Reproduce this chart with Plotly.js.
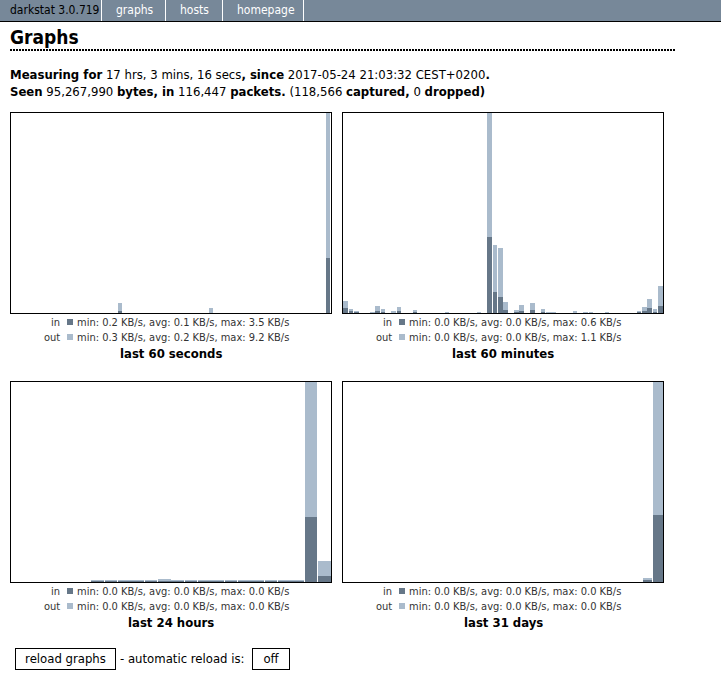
<!DOCTYPE html>
<html><head><meta charset="utf-8">
<script src="https://cdn.plot.ly/plotly-3.0.1.min.js"></script>
<style>
body{margin:0;background:#fff;font-family:"DejaVu Sans Condensed","DejaVu Sans",sans-serif;color:#000;}
#plot{position:absolute;left:0;top:0;width:721px;height:698px;}
#nav{position:absolute;left:0;top:0;width:721px;height:21px;background:#778899;border-bottom:1px solid #000;z-index:2;}
.nv{position:absolute;top:0;height:21px;line-height:21px;font-size:12px;color:#fff;}
.sep{position:absolute;top:0;width:1px;height:21px;background:#fff;}
#h{position:absolute;left:10px;top:25px;font-size:19px;font-weight:bold;line-height:24px;z-index:2;}
#dots{position:absolute;left:10px;top:49px;width:666px;height:2px;z-index:2;}
.ln{position:absolute;left:10px;font-size:13px;line-height:17px;white-space:nowrap;z-index:2;}
.btn{position:absolute;top:648px;height:20px;border:1px solid #000;background:#fff;font-size:13px;line-height:20px;text-align:center;z-index:2;}
#auto{position:absolute;left:120px;top:648px;line-height:22px;font-size:13px;z-index:2;}
</style></head><body>
<div id="plot"></div>
<div id="nav">
  <div class="nv" style="left:10px;color:#000;">darkstat 3.0.719</div>
  <div class="sep" style="left:101px"></div>
  <div class="nv" style="left:116px">graphs</div>
  <div class="sep" style="left:165px"></div>
  <div class="nv" style="left:180px">hosts</div>
  <div class="sep" style="left:222px"></div>
  <div class="nv" style="left:237px">homepage</div>
  <div class="sep" style="left:303px"></div>
</div>
<div id="h">Graphs</div>
<svg id="dots" width="666" height="2"><line x1="0" y1="1" x2="666" y2="1" stroke="#000" stroke-width="2" stroke-dasharray="2,1"/></svg>
<div class="ln" style="top:66px"><b>Measuring for</b> 17 hrs, 3 mins, 16 secs<b>, since</b> 2017-05-24 21:03:32 CEST+0200<b>.</b></div>
<div class="ln" style="top:83px"><b>Seen</b> 95,267,990 <b>bytes, in</b> 116,447 <b>packets.</b> (118,566 <b>captured,</b> 0 <b>dropped)</b></div>
<div class="btn" style="left:15px;width:99px;">reload graphs</div>
<div id="auto">- automatic reload is:</div>
<div class="btn" style="left:252px;width:36px;">off</div>
<script>
// ---- data (KB/s) ----
const secIn  = [0,0,0,0,0,0,0,0,0,0, 0,0,0,0,0,0,0,0,0,0, 0.13,0,0,0,0,0,0,0,0,0, 0,0,0,0,0,0,0,0,0,0, 0,0,0,0,0,0,0,0,0,0, 0,0,0,0,0,0,0,0,0,3.5];
const secOut = [0,0,0,0,0,0,0,0,0,0, 0,0,0,0,0,0,0,0,0,0, 0.52,0,0,0,0,0,0,0,0,0, 0,0,0,0,0,0,0,0.34,0,0, 0,0,0,0,0,0,0,0,0,0, 0,0,0,0,0,0,0,0,0,9.2];
const minIn  = [0.045,0.020,0.011,0,0,0,0.020,0.011,0,0, 0.020,0,0,0.008,0,0,0,0,0,0, 0,0,0,0,0,0,0,0.648,0.178,0.136, 0.025,0,0.008,0.020,0,0.025,0,0.011,0,0, 0,0,0,0,0,0,0,0,0,0, 0,0,0,0,0,0.008,0.017,0.042,0.008,0.059];
const minOut = [0.057,0.014,0.008,0,0,0.008,0.040,0.023,0,0.017, 0.031,0,0,0.017,0,0,0,0,0,0.008, 0,0,0,0,0,0.008,0,1.052,0.399,0.419, 0.068,0,0.017,0.048,0,0.059,0,0.023,0.008,0.008, 0,0,0,0.017,0,0.008,0.008,0,0,0.008, 0,0,0,0,0,0.008,0.034,0.076,0.025,0.170];
const hrIn   = [0,0,0,0,0,0, 0.0002,0.0002,0.0002,0.0002,0.0002,0.0002,0.0002,0.0002,0.0002,0.0002,0.0002,0.0002,0.0002,0.0002,0.0002,0.0002, 0.013,0.00126];
const hrOut  = [0,0,0,0,0,0, 0.0002,0.0002,0.0002,0.0002,0.0002,0.00046,0.0002,0.0002,0.0002,0.0002,0.0002,0.0002,0.0002,0.0002,0.0002,0.0002, 0.027,0.0029];
const dayIn  = [0,0,0,0,0,0,0,0,0,0, 0,0,0,0,0,0,0,0,0,0, 0,0,0,0,0,0,0,0,0,0.00046,0.0134];
const dayOut = [0,0,0,0,0,0,0,0,0,0, 0,0,0,0,0,0,0,0,0,0, 0,0,0,0,0,0,0,0,0,0.00034,0.0266];

const graphTitles = ["last 60 seconds","last 60 minutes","last 24 hours","last 31 days"];
const inStats  = ["min: 0.2 KB/s, avg: 0.1 KB/s, max: 3.5 KB/s","min: 0.0 KB/s, avg: 0.0 KB/s, max: 0.6 KB/s","min: 0.0 KB/s, avg: 0.0 KB/s, max: 0.0 KB/s","min: 0.0 KB/s, avg: 0.0 KB/s, max: 0.0 KB/s"];
const outStats = ["min: 0.3 KB/s, avg: 0.2 KB/s, max: 9.2 KB/s","min: 0.0 KB/s, avg: 0.0 KB/s, max: 1.1 KB/s","min: 0.0 KB/s, avg: 0.0 KB/s, max: 0.0 KB/s","min: 0.0 KB/s, avg: 0.0 KB/s, max: 0.0 KB/s"];

const series = [[secIn,secOut],[minIn,minOut],[hrIn,hrOut],[dayIn,dayOut]];
const barW = [0.78,0.82,0.93,0.92];
const IN_C = "#667788", OUT_C = "#aabbcc";
const W = 721, H = 698;
// pixel boxes: [left, top]
const boxes = [[11,113],[343,113],[11,382],[343,382]];
const PW = 320, PH = 200;
const px = v => v / W, py = v => 1 - v / H;
const FONT = '"DejaVu Sans Condensed","DejaVu Sans",sans-serif';

const data = [], layout = {
  width: W, height: H, margin:{l:0,r:0,t:0,b:0},
  paper_bgcolor:'rgba(0,0,0,0)', plot_bgcolor:'#fff',
  barmode:'stack', showlegend:false, annotations:[], shapes:[],
  font:{family:FONT}
};
series.forEach((s, i) => {
  const n = s[0].length;
  const xs = s[0].map((_, k) => k);
  const sfx = i === 0 ? '' : String(i + 1);
  let maxT = 0;
  s[0].forEach((v, k) => { maxT = Math.max(maxT, v + s[1][k]); });
  data.push({type:'bar', x:xs, y:s[0], xaxis:'x'+sfx, yaxis:'y'+sfx, marker:{color:IN_C, line:{width:0}}, width:barW[i], hoverinfo:'skip'});
  data.push({type:'bar', x:xs, y:s[1], xaxis:'x'+sfx, yaxis:'y'+sfx, marker:{color:OUT_C, line:{width:0}}, width:barW[i], hoverinfo:'skip'});
  const [L, T] = boxes[i];
  const ax = {showgrid:false, zeroline:false, showticklabels:false, ticks:'', showline:true, mirror:true, linecolor:'#000', linewidth:1, fixedrange:true};
  layout['xaxis'+sfx] = Object.assign({}, ax, {domain:[px(L), px(L+PW)], range:[-0.5, n-0.5], anchor:'y'+sfx});
  layout['yaxis'+sfx] = Object.assign({}, ax, {domain:[py(T+PH), py(T)], range:[0, maxT], anchor:'x'+sfx});
  const B = T + PH;
  const off = L - 11;
  const lab = {xref:'paper', yref:'paper', showarrow:false, font:{family:FONT, size:11, color:'#333'}, yanchor:'middle'};
  layout.annotations.push(Object.assign({}, lab, {x:px(62+off), y:py(B+9), xanchor:'right', text:'in'}));
  layout.annotations.push(Object.assign({}, lab, {x:px(62+off), y:py(B+24), xanchor:'right', text:'out'}));
  layout.annotations.push(Object.assign({}, lab, {x:px(75+off), y:py(B+9), xanchor:'left', text:inStats[i]}));
  layout.annotations.push(Object.assign({}, lab, {x:px(75+off), y:py(B+24), xanchor:'left', text:outStats[i]}));
  layout.annotations.push({xref:'paper', yref:'paper', showarrow:false, x:px(L+PW/2), y:py(B+40), xanchor:'center', yanchor:'middle', text:'<b>'+graphTitles[i]+'</b>', font:{family:FONT, size:13, color:'#000'}});
  layout.shapes.push({type:'rect', xref:'paper', yref:'paper', x0:px(67+off), x1:px(73+off), y0:py(B+12), y1:py(B+6), fillcolor:IN_C, line:{width:0}});
  layout.shapes.push({type:'rect', xref:'paper', yref:'paper', x0:px(67+off), x1:px(73+off), y0:py(B+27), y1:py(B+21), fillcolor:OUT_C, line:{width:0}});
});
Plotly.newPlot('plot', data, layout, {staticPlot:true, displayModeBar:false});
</script>
</body></html>
